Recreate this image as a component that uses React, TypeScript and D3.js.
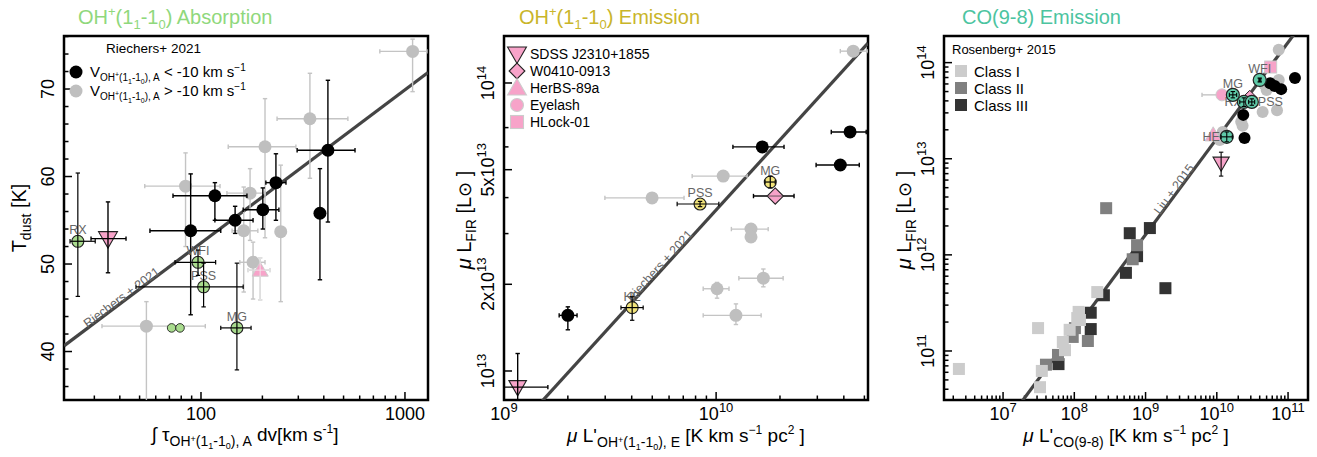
import React from 'react'
import * as d3 from 'd3'

const FONT = '"Liberation Sans", Arial, Helvetica, sans-serif'

// ---------- OH+(1_1-1_0) absorption : [int tau dv, Tdust, xlo, xhi, ylo, yhi]
const absGrey = [
	[1090, 74.3, 753, 1282, 69.7, 75.7],
	[342, 66.6, 236, 525, 59.8, 71.8],
	[206, 63.4, 136, 292, 53.0, 68.9],
	[84, 58.9, 53, 124, 52.0, 62.7],
	[174, 58.1, 134, 206, 52.7, 60.9],
	[162, 53.8, 142, 190, 46.8, 58.8],
	[246, 53.7, null, null, 45.7, 61.3],
	[180, 50.2, 155, 206, 46.0, 52.5],
	[54, 42.9, 32.7, 105, 34, 45.7],
]
const absBlack = [
	[419, 63.0, 296, 569, 54.8, 71.0],
	[233, 59.3, 208, 261, 55.0, 62.6],
	[117, 57.8, 72.9, 168, 55.0, 59.3],
	[147, 55.0, 117, 180, 53.5, 56.6],
	[201, 56.2, 161, 241, 54.0, 58.7],
	[383, 55.8, null, null, 48.2, 60.9],
	[89, 53.8, 56.2, 125, 44.2, 60.3],
]
const absGreenNames = ['RX', 'WFI', 'PSS', 'MG']
const absGreen = [
	[24.9, 52.6, 22.8, 30.3, 46.3, 60.4],
	[96.7, 50.2, 74.6, 118, 48.7, 51.6],
	[103, 47.4, 48, 161, 45.1, 50.1],
	[150, 42.7, 125, 176, 37.9, 50.1],
]
const absGreenNoErr = [
	[71.8, 42.7],
	[78.9, 42.7],
]
const absSdss = [35, 52.9, 28.9, 42.9, 49.0, 57.1]
const absHerbs = [195, 49.3, 170, 218, 45.9, 50.7]
const absFit = [52.4, 17.5] // T = a + b*log10(x/100)

// ---------- OH+(1_1-1_0) emission : [L'OH+, LFIR, xlo, xhi, ylo, yhi]
const emGrey = [
	[4.43e10, 1.29e14, 3.85e10, 5.2e10, null, null],
	[1.08e10, 4.75e13, 7.71e9, 1.4e10, null, null],
	[4.99e9, 3.99e13, 2.99e9, 7.06e9, null, null],
	[1.46e10, 3.11e13, 1.18e10, 1.76e10, null, null],
	[1.46e10, 2.92e13, null, null, null, null],
	[1.67e10, 2.1e13, 1.28e10, 2.07e10, 1.96e13, 2.26e13],
	[1.01e10, 1.93e13, 8.69e9, 1.15e10, 1.79e13, 2.03e13],
	[1.24e10, 1.56e13, 8.69e9, 1.63e10, 1.45e13, 1.71e13],
]
const emBlack = [
	[1.65e10, 6.0e13, 1.2e10, 2.09e10, null, null],
	[4.28e10, 6.76e13, 3.49e10, 5.1e10, null, null],
	[3.85e10, 5.19e13, 2.96e10, 4.73e10, null, null],
	[2.0e9, 1.56e13, 1.82e9, 2.21e9, 1.39e13, 1.67e13],
]
const emYellowNames = ['PSS', 'MG', 'HE']
const emYellow = [
	[8.4e9, 3.8e13, 6.55e9, 1.03e10, 3.72e13, 3.88e13],
	[1.8e10, 4.53e13, 1.7e10, 1.9e10, 4.32e13, 4.75e13],
	[4.02e9, 1.66e13, 3.56e9, 4.53e9, 1.5e13, 1.81e13],
]
const emW0410 = [1.9e10, 4.05e13, 1.5e10, 2.33e10, null, null]
const emSdss = [1.16e9, 8.79e12, 1.0e9, 1.61e9, 7.9e12, 1.15e13]
const emFit = [13.559, 0.809] // log L = a + b*(log L' - 10)
const legendNames = ['SDSS J2310+1855', 'W0410-0913', 'HerBS-89a', 'Eyelash', 'HLock-01']

// ---------- CO(9-8) emission : [L'CO, LFIR]
const coClassI = [
	[2.4e6, 6.5e10], [3.1e7, 1.73e11], [2.1e8, 4.1e11], [1.15e8, 2.55e11], [1.2e8, 2.1e11],
	[1.1e8, 2.2e11], [6.9e7, 1.24e11], [7.4e7, 1.02e11], [8.6e7, 1.66e11], [3.5e7, 6.2e10], [3.3e7, 4.2e10],
]
const coClassII = [
	[2.8e8, 3.06e12], [7.6e8, 1.26e12], [6.6e8, 9.0e11], [1.02e8, 1.73e11], [9.5e7, 1.4e11],
	[1.55e8, 1.27e11], [4.0e7, 7.2e10], [5.9e7, 9.1e10],
]
const coClassIII = [
	[1.15e9, 1.9e12], [6.0e8, 1.68e12], [7.6e8, 9.7e11], [5.3e8, 6.5e11], [2.6e8, 3.8e11],
	[1.7e8, 2.5e11], [1.7e8, 1.69e11], [6.0e7, 7.3e10], [1.9e9, 4.5e11],
]
const coGrey = [
	[7.4e10, 1.36e14], [7.4e10, 6.6e13], [5.0e10, 5.2e13], [4.4e10, 3.07e13], [7.0e10, 3.2e13],
	[2.2e10, 2.42e13], [2.3e10, 2.2e13], [1.21e10, 1.9e13], [1.1e10, 1.57e13], [4.6e10, 6.0e13],
]
const coBlack = [
	[1.25e11, 6.9e13], [6.5e10, 5.7e13], [8.0e10, 5.3e13], [5.6e10, 6.1e13], [2.35e10, 2.86e13], [2.45e10, 1.64e13],
]
const coTealNames = ['WFI', 'MG', 'RX', 'PSS', 'HE']
const coTeal = [
	[4.0e10, 6.6e13, 3.9e10, 4.15e10, 6.3e13, 6.9e13],
	[1.68e10, 4.62e13, 1.5e10, 1.9e10, 4.3e13, 5.0e13],
	[2.4e10, 3.9e13, 2.1e10, 2.7e10, 3.5e13, 4.3e13],
	[3.1e10, 3.9e13, 2.8e10, 3.4e10, 3.6e13, 4.2e13],
	[1.38e10, 1.69e13, 1.15e10, 1.65e10, 1.5e13, 1.9e13],
]
const coHlock = [5.7e10, 9.0e13]
const coEyelash = [1.18e10, 4.62e13, 6.2e9, 1.7e10]
const coHerbs = [8.9e9, 1.77e13]
const coW0410 = [2.9e10, 4.3e13]
const coSdss = [1.15e10, 9.0e12, null, null, 6.6e12, 1.17e13]
const coFit = [3.21, 1.0] // log L = a + b*log L'

const GREEN = '#a9dc8e'
const YELLOW = '#f2e47a'
const TEAL = '#5fcaa8'
const PINK = '#f7a3c9'
const GREY = '#bfbfbf'

// rich text: [text, shift(px, + = down), size]
function Rich({ segs, ...rest }) {
	let prev = 0
	return (
		<text fontFamily={FONT} {...rest}>
			{segs.map((s, i) => {
				const dy = s[1] - prev
				prev = s[1]
				return (
					<tspan key={i} dy={dy} fontSize={s[2]} fontStyle={s[3] ? 'italic' : undefined}>
						{s[0]}
					</tspan>
				)
			})}
		</text>
	)
}

function Marker({ shape, x, y, s = 6.5, fill, stroke = 'none', sw = 1 }) {
	if (shape === 'circle') return <circle cx={x} cy={y} r={s} fill={fill} stroke={stroke} strokeWidth={sw} />
	if (shape === 'down')
		return <path d={`M${x - s * 1.35},${y - s}L${x + s * 1.35},${y - s}L${x},${y + s * 1.35}Z`} fill={fill} stroke={stroke} strokeWidth={sw} />
	if (shape === 'up')
		return <path d={`M${x - s * 1.35},${y + s}L${x + s * 1.35},${y + s}L${x},${y - s * 1.35}Z`} fill={fill} stroke={stroke} strokeWidth={sw} />
	if (shape === 'diamond')
		return <path d={`M${x},${y - s * 1.25}L${x + s * 1.25},${y}L${x},${y + s * 1.25}L${x - s * 1.25},${y}Z`} fill={fill} stroke={stroke} strokeWidth={sw} />
	return <rect x={x - s} y={y - s} width={2 * s} height={2 * s} fill={fill} stroke={stroke} strokeWidth={sw} />
}

function Err({ d, xs, ys, color, w = 1.4 }) {
	const cx = xs(d[0])
	const cy = ys(d[1])
	const c = 2.2
	return (
		<g stroke={color} strokeWidth={w}>
			{d[2] != null && (
				<g>
					<line x1={xs(d[2])} x2={xs(d[3])} y1={cy} y2={cy} />
					<line x1={xs(d[2])} x2={xs(d[2])} y1={cy - c} y2={cy + c} />
					<line x1={xs(d[3])} x2={xs(d[3])} y1={cy - c} y2={cy + c} />
				</g>
			)}
			{d[4] != null && (
				<g>
					<line x1={cx} x2={cx} y1={ys(d[4])} y2={ys(d[5])} />
					<line x1={cx - c} x2={cx + c} y1={ys(d[4])} y2={ys(d[4])} />
					<line x1={cx - c} x2={cx + c} y1={ys(d[5])} y2={ys(d[5])} />
				</g>
			)}
		</g>
	)
}

function Axes({ f, xs, ys, xMajor, xMinor, yMajor, yMinor, xLabel, yLabel, id }) {
	return (
		<g>
			{xMinor.map((v, i) => (
				<line key={'xm' + i} x1={xs(v)} x2={xs(v)} y1={f.b} y2={f.b - 4.5} stroke="#000" strokeWidth={1.5} />
			))}
			{xMajor.map((v, i) => (
				<line key={'xM' + i} x1={xs(v)} x2={xs(v)} y1={f.b} y2={f.b - 8} stroke="#000" strokeWidth={1.5} />
			))}
			{yMinor.map((v, i) => (
				<line key={'ym' + i} x1={f.l} x2={f.l + 4.5} y1={ys(v)} y2={ys(v)} stroke="#000" strokeWidth={1.5} />
			))}
			{yMajor.map((v, i) => (
				<line key={'yM' + i} x1={f.l} x2={f.l + 8} y1={ys(v)} y2={ys(v)} stroke="#000" strokeWidth={1.5} />
			))}
			{xMajor.map((v, i) => (
				<Rich key={'xl' + i} x={xs(v)} y={420} textAnchor="middle" segs={xLabel(v)} />
			))}
			{yMajor.map((v, i) => (
				<Rich key={'yl' + i} transform={`translate(${f.l - 10},${ys(v)}) rotate(-90)`} textAnchor="middle" segs={yLabel(v)} />
			))}
			<rect x={f.l} y={f.t} width={f.r - f.l} height={f.b - f.t} fill="none" stroke="#000" strokeWidth={2.5} />
			<clipPath id={id}>
				<rect x={f.l} y={f.t} width={f.r - f.l} height={f.b - f.t} />
			</clipPath>
		</g>
	)
}

const pow10 = v => {
	const e = Math.round(Math.log10(v))
	return [['10', 0, 18], [String(e), -8, 13]]
}
const decadeMinors = (lo, hi) => {
	const out = []
	for (let e = lo; e <= hi; e++) for (let k = 2; k <= 9; k++) out.push(k * 10 ** e)
	return out
}

export default function App() {
	// ---- panel 1
	const f1 = { l: 64, r: 428, t: 36, b: 400 }
	const x1 = d3.scaleLog().domain([21.3, 1297]).range([f1.l, f1.r])
	const y1 = d3.scaleLinear().domain([34.46, 76.06]).range([f1.b, f1.t])
	const t1 = v => absFit[0] + absFit[1] * Math.log10(v / 100)
	const fit1 = x1.domain().map(v => [x1(v), y1(t1(v))])

	// ---- panel 2
	const f2 = { l: 504, r: 868, t: 36, b: 400 }
	const x2 = d3.scaleLog().domain([1e9, 5.2e10]).range([f2.l, f2.r])
	const y2 = d3.scaleLog().domain([7.93e12, 1.456e14]).range([f2.b, f2.t])
	const l2 = v => 10 ** (emFit[0] + emFit[1] * (Math.log10(v) - 10))
	const fit2 = x2.domain().map(v => [x2(v), y2(l2(v))])

	// ---- panel 3
	const f3 = { l: 944, r: 1308, t: 36, b: 400 }
	const x3 = d3.scaleLog().domain([10 ** 6.171, 10 ** 11.28]).range([f3.l, f3.r])
	const y3 = d3.scaleLog().domain([10 ** 10.49, 10 ** 14.277]).range([f3.b, f3.t])
	const l3 = v => 10 ** (coFit[0] + coFit[1] * Math.log10(v))
	const fit3 = x3.domain().map(v => [x3(v), y3(l3(v))])

	const line = d3.line()
	const ang = p => (Math.atan2(p[1][1] - p[0][1], p[1][0] - p[0][0]) * 180) / Math.PI

	const ohSub = (base, fs, ss, tail) => [
		['OH', base, fs],
		['+', base - 4, ss],
		['(1', base, fs],
		['1', base + 3, ss],
		['-1', base, fs],
		['0', base + 3, ss],
		[tail, base, fs],
	]

	return (
		<svg width={1317} height={457} style={{ position: 'absolute', left: 0, top: 0, background: '#fff' }} fontFamily={FONT}>
			{/* ---------------- titles ---------------- */}
			<Rich x={78} y={24} fill="#8fd87c" segs={[['OH', 0, 20], ['+', -8, 13], ['(1', 0, 20], ['1', 5, 13], ['-1', 0, 20], ['0', 5, 13], [') Absorption', 0, 20]]} />
			<Rich x={519} y={24} fill="#c9b52a" segs={[['OH', 0, 20], ['+', -8, 13], ['(1', 0, 20], ['1', 5, 13], ['-1', 0, 20], ['0', 5, 13], [') Emission', 0, 20]]} />
			<Rich x={962} y={24} fill="#4cc4a0" segs={[['CO(9-8) Emission', 0, 20]]} />

			{/* ---------------- panel 1 ---------------- */}
			<Axes
				id="c1" f={f1} xs={x1} ys={y1}
				xMajor={[100, 1000]}
				xMinor={[30, 40, 50, 60, 70, 80, 90, 200, 300, 400, 500, 600, 700, 800, 900]}
				yMajor={[40, 50, 60, 70]}
				yMinor={d3.range(36, 77, 2).filter(v => v % 10 !== 0)}
				xLabel={v => [[String(v), 0, 18]]}
				yLabel={v => [[String(v), 0, 18]]}
			/>
			<g clipPath="url(#c1)">
				<path d={line(fit1)} stroke="#444" strokeWidth={3.2} fill="none" />
				<Rich transform={`translate(${x1(42)},${y1(t1(42))}) rotate(${ang(fit1)})`} dy={-5} textAnchor="middle" fill="#666" segs={[['Riechers + 2021', 0, 12.5]]} />
				{absGrey.map((d, i) => <Err key={i} d={d} xs={x1} ys={y1} color="#c4c4c4" />)}
				{absGrey.map((d, i) => <Marker key={i} shape="circle" x={x1(d[0])} y={y1(d[1])} fill={GREY} />)}
				{absBlack.map((d, i) => <Err key={i} d={d} xs={x1} ys={y1} color="#000" />)}
				{absBlack.map((d, i) => <Marker key={i} shape="circle" x={x1(d[0])} y={y1(d[1])} fill="#000" />)}
				<Err d={absHerbs} xs={x1} ys={y1} color="#c4c4c4" />
				<Marker shape="up" x={x1(absHerbs[0])} y={y1(absHerbs[1])} s={6} fill={PINK} stroke="#ccc" />
				<Err d={absHerbs} xs={x1} ys={y1} color="#f0f0f0" w={0.8} />
				<Marker shape="down" x={x1(absSdss[0])} y={y1(absSdss[1])} s={7} fill={PINK} stroke="#222" sw={1.1} />
				<Err d={absSdss} xs={x1} ys={y1} color="#000" />
				{absGreenNoErr.map((d, i) => <Marker key={i} shape="circle" x={x1(d[0])} y={y1(d[1])} s={4.3} fill={GREEN} stroke="#222" sw={0.9} />)}
				{absGreen.map((d, i) => (
					<text key={'n' + i} x={x1(d[0])} y={y1(d[1]) - 7} textAnchor="middle" fontSize={12.5} fill="#666">{absGreenNames[i]}</text>
				))}
				{absGreen.map((d, i) => (
					<g key={i}>
						<Marker shape="circle" x={x1(d[0])} y={y1(d[1])} s={6} fill={GREEN} stroke="#222" sw={1.1} />
						<Err d={d} xs={x1} ys={y1} color="#000" w={1.2} />
					</g>
				))}
			</g>
			{/* legend 1 */}
			<text x={106} y={53} fontSize={13.5}>Riechers+ 2021</text>
			<circle cx={76} cy={72} r={6.5} fill="#000" />
			<circle cx={76} cy={91} r={6.5} fill={GREY} />
			<Rich x={90} y={77} segs={[['V', 0, 15], ...ohSub(4, 10, 7, '), A'), [' < -10 km s', 0, 15], ['−1', -6, 10]]} />
			<Rich x={90} y={96} segs={[['V', 0, 15], ...ohSub(4, 10, 7, '), A'), [' > -10 km s', 0, 15], ['−1', -6, 10]]} />
			{/* axis labels 1 */}
			<Rich x={245} y={441} textAnchor="middle" segs={[['∫ ', 0, 19], ['τ', 0, 19], ...ohSub(5, 14, 9, '), A'), [' dv[km s', 0, 19], ['-1', -8, 12], [']', 0, 19]]} />
			<Rich transform="translate(26,218) rotate(-90)" textAnchor="middle" segs={[['T', 0, 20], ['dust', 5, 14], [' [K]', 0, 20]]} />

			{/* ---------------- panel 2 ---------------- */}
			<Axes
				id="c2" f={f2} xs={x2} ys={y2}
				xMajor={[1e9, 1e10]}
				xMinor={[2e9, 3e9, 4e9, 5e9, 6e9, 7e9, 8e9, 9e9, 2e10, 3e10, 4e10, 5e10]}
				yMajor={[1e13, 2e13, 5e13, 1e14]}
				yMinor={[3e13, 4e13, 6e13, 7e13]}
				xLabel={pow10}
				yLabel={v => {
					const m = Math.round(v / 10 ** Math.floor(Math.log10(v)))
					const e = Math.floor(Math.log10(v))
					return [[(m === 1 ? '' : m + 'x') + '10', 0, 18], [String(e), -8, 13]]
				}}
			/>
			<g clipPath="url(#c2)">
				<path d={line(fit2)} stroke="#444" strokeWidth={3.2} fill="none" />
				<Rich transform={`translate(${x2(5.6e9)},${y2(l2(5.6e9))}) rotate(${ang(fit2)})`} dy={-5} textAnchor="middle" fill="#666" segs={[['Riechers + 2021', 0, 12.5]]} />
				{emGrey.map((d, i) => <Err key={i} d={d} xs={x2} ys={y2} color="#c4c4c4" />)}
				{emGrey.map((d, i) => <Marker key={i} shape="circle" x={x2(d[0])} y={y2(d[1])} fill={GREY} />)}
				{emBlack.map((d, i) => <Err key={i} d={d} xs={x2} ys={y2} color="#000" />)}
				{emBlack.map((d, i) => <Marker key={i} shape="circle" x={x2(d[0])} y={y2(d[1])} fill="#000" />)}
				<Err d={emW0410} xs={x2} ys={y2} color="#000" />
				<Marker shape="diamond" x={x2(emW0410[0])} y={y2(emW0410[1])} s={6.5} fill={PINK} stroke="#222" sw={1.1} />
				<line x1={x2(emW0410[0]) - 8} x2={x2(emW0410[0]) + 8} y1={y2(emW0410[1])} y2={y2(emW0410[1])} stroke="#444" strokeWidth={0.8} />
				<Marker shape="down" x={x2(emSdss[0])} y={y2(emSdss[1])} s={6.5} fill={PINK} stroke="#222" sw={1.1} />
				<Err d={emSdss} xs={x2} ys={y2} color="#000" />
				{emYellow.map((d, i) => (
					<text key={'n' + i} x={x2(d[0])} y={y2(d[1]) - 7} textAnchor="middle" fontSize={12.5} fill="#666">{emYellowNames[i]}</text>
				))}
				{emYellow.map((d, i) => (
					<g key={i}>
						<Marker shape="circle" x={x2(d[0])} y={y2(d[1])} s={6} fill={YELLOW} stroke="#222" sw={1.1} />
						<Err d={d} xs={x2} ys={y2} color="#000" w={1.2} />
					</g>
				))}
			</g>
			{/* legend 2 */}
			{legendNames.map((n, i) => {
				const cy = 54 + i * 17
				const shape = ['down', 'diamond', 'up', 'circle', 'square'][i]
				const stroke = i < 2 ? '#222' : '#ccc'
				return (
					<g key={n}>
						<Marker shape={shape} x={517} y={cy} s={shape === 'down' || shape === 'up' ? 7 : shape === 'diamond' ? 6.3 : 6.5} fill={PINK} stroke={stroke} sw={1.1} />
						<text x={530} y={cy + 5} fontSize={14}>{n}</text>
					</g>
				)
			})}
			{/* axis labels 2 */}
			<Rich x={686} y={442} textAnchor="middle" segs={[['μ', 0, 19, true], [' L\'', 0, 19], ...ohSub(5, 14, 9, '), E'), [' [K km s', 0, 19], ['−1', -8, 12], [' pc', 0, 19], ['2', -8, 12], [' ]', 0, 19]]} />
			<Rich transform="translate(471,220) rotate(-90)" textAnchor="middle" segs={[['μ', 0, 20, true], [' L', 0, 20], ['FIR', 5, 14], [' [L', 0, 20], ['⊙', 0, 18], [' ]', 0, 20]]} />

			{/* ---------------- panel 3 ---------------- */}
			<Axes
				id="c3" f={f3} xs={x3} ys={y3}
				xMajor={[1e7, 1e8, 1e9, 1e10, 1e11]}
				xMinor={decadeMinors(6, 10).filter(v => v > x3.domain()[0])}
				yMajor={[1e11, 1e12, 1e13, 1e14]}
				yMinor={decadeMinors(10, 13).filter(v => v > y3.domain()[0] && v < y3.domain()[1])}
				xLabel={pow10}
				yLabel={pow10}
			/>
			<g clipPath="url(#c3)">
				<path d={line(fit3)} stroke="#444" strokeWidth={3.2} fill="none" />
				<Rich transform={`translate(${x3(2.8e9)},${y3(l3(2.8e9))}) rotate(${ang(fit3)})`} dy={-5} textAnchor="middle" fill="#666" segs={[['Liu + 2015', 0, 12.5]]} />
				{coClassIII.map((d, i) => <Marker key={i} shape="square" x={x3(d[0])} y={y3(d[1])} s={6} fill="#333" />)}
				{coClassII.map((d, i) => <Marker key={i} shape="square" x={x3(d[0])} y={y3(d[1])} s={6} fill="#808080" />)}
				{coClassI.map((d, i) => <Marker key={i} shape="square" x={x3(d[0])} y={y3(d[1])} s={6} fill="#cccccc" />)}
				{coGrey.map((d, i) => <Marker key={i} shape="circle" x={x3(d[0])} y={y3(d[1])} s={6} fill={GREY} />)}
				{coBlack.map((d, i) => <Marker key={i} shape="circle" x={x3(d[0])} y={y3(d[1])} s={6} fill="#000" />)}
				<Marker shape="square" x={x3(coHlock[0])} y={y3(coHlock[1])} s={6} fill={PINK} stroke="#ccc" />
				<Err d={coEyelash} xs={x3} ys={y3} color="#c4c4c4" />
				<Marker shape="circle" x={x3(coEyelash[0])} y={y3(coEyelash[1])} s={6} fill={PINK} stroke="#ccc" />
				<Marker shape="up" x={x3(coHerbs[0])} y={y3(coHerbs[1])} s={6} fill={PINK} stroke="#ccc" />
				<Marker shape="diamond" x={x3(coW0410[0])} y={y3(coW0410[1])} s={6} fill={PINK} stroke="#222" />
				<Marker shape="down" x={x3(coSdss[0])} y={y3(coSdss[1])} s={6} fill={PINK} stroke="#222" sw={1.1} />
				<Err d={coSdss} xs={x3} ys={y3} color="#000" w={1.1} />
				<g fontSize={12.5} fill="#666">
					<text x={x3(coTeal[0][0])} y={y3(coTeal[0][1]) - 7} textAnchor="middle">WFI</text>
					<text x={x3(coTeal[1][0])} y={y3(coTeal[1][1]) - 7} textAnchor="middle">MG</text>
					<text x={x3(coTeal[2][0]) - 2} y={y3(coTeal[2][1]) + 4} textAnchor="end">RX</text>
					<text x={x3(coTeal[3][0]) + 6} y={y3(coTeal[3][1]) + 4} textAnchor="start">PSS</text>
					<text x={x3(coTeal[4][0]) - 7} y={y3(coTeal[4][1]) + 4} textAnchor="end">HE</text>
				</g>
				{coTeal.map((d, i) => (
					<g key={coTealNames[i]}>
						<Marker shape="circle" x={x3(d[0])} y={y3(d[1])} s={6.5} fill={TEAL} stroke="#222" sw={1.2} />
						<Err d={d} xs={x3} ys={y3} color="#000" w={1.1} />
					</g>
				))}
			</g>
			{/* legend 3 */}
			<text x={952} y={54} fontSize={13}>Rosenberg+ 2015</text>
			{['Class I', 'Class II', 'Class III'].map((n, i) => (
				<g key={n}>
					<rect x={955} y={65 + i * 17} width={12} height={12} fill={['#cccccc', '#808080', '#333'][i]} />
					<text x={974} y={77 + i * 17} fontSize={15}>{n}</text>
				</g>
			))}
			{/* axis labels 3 */}
			<Rich x={1126} y={442} textAnchor="middle" segs={[['μ', 0, 19, true], [' L\'', 0, 19], ['CO(9-8)', 5, 14], [' [K km s', 0, 19], ['−1', -8, 12], [' pc', 0, 19], ['2', -8, 12], [' ]', 0, 19]]} />
			<Rich transform="translate(911,220) rotate(-90)" textAnchor="middle" segs={[['μ', 0, 20, true], [' L', 0, 20], ['FIR', 5, 14], [' [L', 0, 20], ['⊙', 0, 18], [' ]', 0, 20]]} />
		</svg>
	)
}
